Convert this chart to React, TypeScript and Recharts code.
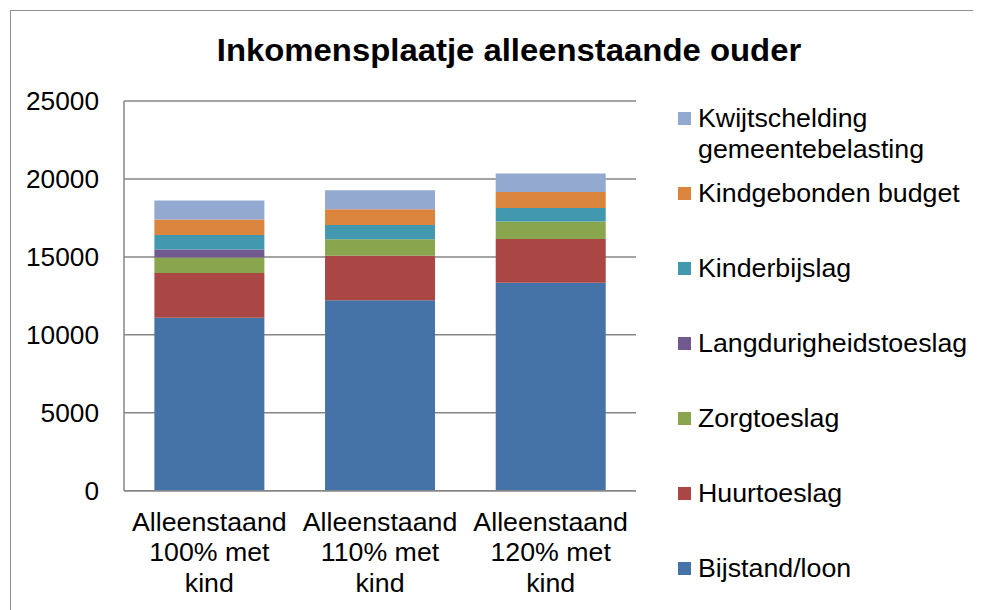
import React from 'react';
import { BarChart, Bar, XAxis, YAxis, CartesianGrid, Legend } from 'recharts';

const categories = ['Alleenstaand 100% met kind', 'Alleenstaand 110% met kind', 'Alleenstaand 120% met kind'];
const categoryLines = [
  ['Alleenstaand', '100% met', 'kind'],
  ['Alleenstaand', '110% met', 'kind'],
  ['Alleenstaand', '120% met', 'kind'],
];
const bijstand = [11100, 12225, 13335];
const huurtoeslag = [2870, 2840, 2820];
const zorgtoeslag = [990, 1070, 1115];
const langdurigheid = [510, 0, 0];
const kinderbijslag = [940, 915, 870];
const kindgebonden = [990, 1005, 1025];
const kwijtschelding = [1215, 1220, 1180];
const yTicks = [0, 5000, 10000, 15000, 20000, 25000];

const seriesDefs = [
  { key: 'bijstand', name: 'Bijstand/loon', color: '#4572A7', values: bijstand },
  { key: 'huur', name: 'Huurtoeslag', color: '#AA4643', values: huurtoeslag },
  { key: 'zorg', name: 'Zorgtoeslag', color: '#89A54E', values: zorgtoeslag },
  { key: 'lang', name: 'Langdurigheidstoeslag', color: '#71588F', values: langdurigheid },
  { key: 'kinderbijslag', name: 'Kinderbijslag', color: '#4198AF', values: kinderbijslag },
  { key: 'kindgebonden', name: 'Kindgebonden budget', color: '#DB843D', values: kindgebonden },
  { key: 'kwijt', name: 'Kwijtschelding gemeentebelasting', color: '#93A9CF', values: kwijtschelding },
];

const data = categories.map((c, i) => {
  const row: any = { name: c, idx: i };
  seriesDefs.forEach((s) => {
    row[s.key] = s.values[i];
  });
  return row;
});

const FONT = '"Liberation Sans", Arial, sans-serif';

const XTick = (props: any) => {
  const { x, y, index } = props;
  const lines = categoryLines[index] || [];
  const offsets = [40, 70.5, 101];
  return (
    <g transform={`translate(${x},${y}) scale(1.07,1)`}>
      {lines.map((l: string, i: number) => (
        <text key={i} x={0} y={offsets[i]} textAnchor="middle" fontSize={25} fontFamily={FONT} fill="#000">
          {l}
        </text>
      ))}
    </g>
  );
};

const YTick = (props: any) => {
  const { x, y, payload } = props;
  return (
    <g transform={`translate(${x},${y}) scale(1.05,1)`}>
      <text x={0} y={0} dy="0.355em" textAnchor="end" fontSize={25} fontFamily={FONT} fill="#000">
        {payload.value}
      </text>
    </g>
  );
};

const legendLayout = [
  { key: 'kwijt', center: 110, lines: ['Kwijtschelding', 'gemeentebelasting'] },
  { key: 'kindgebonden', center: 185, lines: ['Kindgebonden budget'] },
  { key: 'kinderbijslag', center: 260, lines: ['Kinderbijslag'] },
  { key: 'lang', center: 335, lines: ['Langdurigheidstoeslag'] },
  { key: 'zorg', center: 410, lines: ['Zorgtoeslag'] },
  { key: 'huur', center: 485, lines: ['Huurtoeslag'] },
  { key: 'bijstand', center: 560, lines: ['Bijstand/loon'] },
];

const LegendContent = (props: any) => {
  const payload = props.payload || [];
  const colorOf = (k: string) => {
    const p = payload.find((e: any) => e.dataKey === k);
    return p ? p.color : '#000';
  };
  return (
    <div style={{ position: 'relative', width: 300, height: 600, fontFamily: FONT, fontSize: 25, color: '#000' }}>
      {legendLayout.map((item) => (
        <div key={item.key}>
          <div
            style={{
              position: 'absolute',
              left: 0,
              top: item.center - 6.5,
              width: 13,
              height: 13,
              background: colorOf(item.key),
            }}
          />
          <div
            style={{
              position: 'absolute',
              left: 20,
              top: item.center - 15.5,
              lineHeight: '31px',
              whiteSpace: 'nowrap',
              textAlign: 'left',
              transform: 'scaleX(1.07)',
              transformOrigin: 'left center',
            }}
          >
            {item.lines.map((l, i) => (
              <div key={i}>{l}</div>
            ))}
          </div>
        </div>
      ))}
    </div>
  );
};

export default function App() {
  return (
    <div style={{ position: 'relative', width: 973, height: 602, overflow: 'hidden', fontFamily: FONT }}>
      <div
        style={{
          position: 'absolute',
          left: 2,
          top: 2,
          width: 1000,
          height: 700,
          border: '1.5px solid #8f8f8f',
          boxSizing: 'border-box',
        }}
      />
      <div
        style={{
          position: 'absolute',
          left: 0,
          top: 26,
          width: 1002,
          textAlign: 'center',
          fontWeight: 'bold',
          fontSize: 32,
          lineHeight: '32px',
          color: '#000',
          whiteSpace: 'nowrap',
          transform: 'scaleX(1.027)',
          transformOrigin: '501px center',
        }}
      >
        Inkomensplaatje alleenstaande ouder
      </div>
      <div style={{ position: 'absolute', left: 0, top: 0 }}>
        <BarChart
          width={973}
          height={602}
          data={data}
          margin={{ top: 93, right: 345, bottom: 59.3, left: 0 }}
          barCategoryGap="17.8%"
        >
          <CartesianGrid vertical={false} stroke="#868686" strokeWidth={1.5} />
          <XAxis
            dataKey="name"
            height={60}
            tickLine={false}
            tickSize={0}
            tickMargin={0}
            axisLine={{ stroke: '#868686', strokeWidth: 1.5 }}
            tick={<XTick />}
            interval={0}
          />
          <YAxis
            width={116}
            domain={[0, 25000]}
            ticks={yTicks}
            tickLine={false}
            tickSize={0}
            tickMargin={25}
            axisLine={{ stroke: '#868686', strokeWidth: 1.5 }}
            tick={<YTick />}
            interval={0}
          />
          <Legend
            layout="vertical"
            align="center"
            verticalAlign="middle"
            wrapperStyle={{ position: 'absolute', left: 670, top: 0, width: 300, height: 600 }}
            content={<LegendContent />}
          />
          {seriesDefs.map((s) => (
            <Bar key={s.key} dataKey={s.key} name={s.name} stackId="a" fill={s.color} isAnimationActive={false} />
          ))}
        </BarChart>
      </div>
    </div>
  );
}
